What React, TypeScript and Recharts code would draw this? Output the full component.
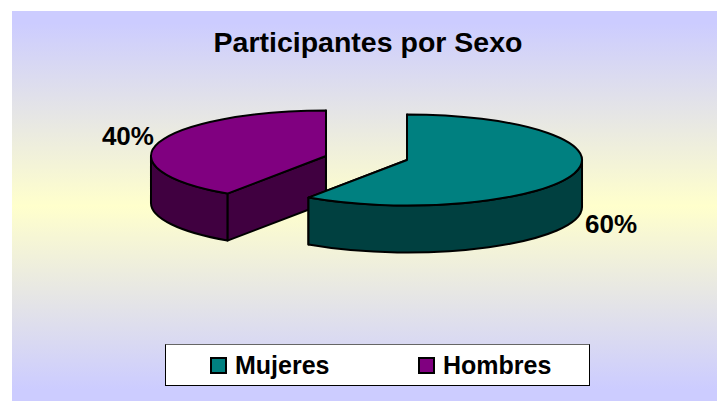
import { Cell, Legend, Pie, PieChart } from "recharts";

const categories = ["Hombres", "Mujeres"];
const values = [40.48, 59.52];
const legendOrder = ["Mujeres", "Hombres"];
const topColors = ["#800080", "#008080"];
const sideColors = ["#400040", "#004040"];

const chartTitle = "Participantes por Sexo";

const tableData = categories.map((name, i) => ({ name, value: values[i] }));
const total = values.reduce((a, b) => a + b, 0);
const firstAngle = 90 + (360 * values[0]) / total;

const WIDTH = 705;
const HEIGHT = 390;
const RX = 175;
const RY = 45.5;
const DEPTH = 47;
const EXPLODE = 42.4;
const EXPLODE_Y = 0.16;
const FONT = '"Liberation Sans", Arial, sans-serif';

const rad = (d: number) => (d * Math.PI) / 180;

const Slice3D = (props: any) => {
  const { cx, cy, startAngle, endAngle, index } = props;
  const a0 = 90 - startAngle;
  const a1 = 90 - endAngle;
  const mid = rad((a0 + a1) / 2);
  const ax = cx + EXPLODE * Math.sin(mid);
  const ay = cy - EXPLODE * EXPLODE_Y * Math.cos(mid);
  const px = (t: number) => ax + RX * Math.sin(rad(t));
  const py = (t: number) => ay - RY * Math.cos(rad(t));

  const top = `M${ax},${ay} L${px(a0)},${py(a0)} A${RX},${RY} 0 ${a1 - a0 > 180 ? 1 : 0} 1 ${px(a1)},${py(a1)} Z`;

  const radial = (t: number) =>
    `M${ax},${ay} L${px(t)},${py(t)} L${px(t)},${py(t) + DEPTH} L${ax},${ay + DEPTH} Z`;

  // only the front half of the rim shows a wall
  const walls: string[] = [];
  [[90, 270], [-270, -90]].forEach(([lo, hi]) => {
    const t0 = Math.max(a0, lo);
    const t1 = Math.min(a1, hi);
    if (t1 > t0) {
      walls.push(
        `M${px(t0)},${py(t0)} A${RX},${RY} 0 0 1 ${px(t1)},${py(t1)} L${px(t1)},${py(t1) + DEPTH} A${RX},${RY} 0 0 0 ${px(t0)},${py(t0) + DEPTH} Z`
      );
    }
  });

  const side = sideColors[index];
  return (
    <g stroke="#000000" strokeWidth={2} strokeLinejoin="round">
      <path d={radial(a0)} fill={side} />
      <path d={radial(a1)} fill={side} />
      {walls.map((d) => (
        <path key={d} d={d} fill={side} />
      ))}
      <path d={top} fill={topColors[index]} />
    </g>
  );
};

const PercentLabel = (props: any) => {
  const { cx, cy, midAngle, percent } = props;
  const t = rad(90 - midAngle);
  const ax = cx + EXPLODE * Math.sin(t);
  const ay = cy - EXPLODE * EXPLODE_Y * Math.cos(t);
  const front = Math.cos(t) < 0;
  return (
    <text
      x={ax + 210.4 * Math.sin(t) + 3}
      y={ay - RY * Math.cos(t) + (front ? DEPTH + 4 : -7)}
      textAnchor="middle"
      dominantBaseline="central"
      fontFamily={FONT}
      fontWeight="bold"
      fontSize={26}
      fill="#000000"
    >
      {`${Math.round(percent * 100)}%`}
    </text>
  );
};

const LegendBox = () => (
  <div
    style={{
      boxSizing: "border-box",
      width: 425,
      height: 42,
      background: "#ffffff",
      border: "1px solid #000000",
      borderTopColor: "#666666",
      position: "relative",
      fontFamily: FONT,
      fontWeight: "bold",
      fontSize: 25,
      color: "#000000",
    }}
  >
    {legendOrder.map((name, i) => (
      <div
        key={name}
        style={{
          position: "absolute",
          left: i === 0 ? 44 : 252,
          top: 0,
          height: 40,
          display: "flex",
          alignItems: "center",
        }}
      >
        <span
          style={{
            boxSizing: "border-box",
            display: "inline-block",
            width: 17,
            height: 17,
            border: "2px solid #000000",
            background: topColors[categories.indexOf(name)],
            marginRight: 8,
          }}
        />
        <span>{name}</span>
      </div>
    ))}
  </div>
);

export default function App() {
  return (
    <div
      style={{
        position: "absolute",
        left: 12,
        top: 11,
        width: WIDTH,
        height: HEIGHT,
        background: "linear-gradient(180deg, #ccccff 3%, #ffffcc 50%, #ccccff 97%)",
      }}
    >
      <PieChart width={WIDTH} height={HEIGHT} margin={{ top: 0, right: 0, bottom: 0, left: 0 }}>
        <text
          x={356}
          y={41}
          textAnchor="middle"
          fontFamily={FONT}
          fontWeight="bold"
          fontSize={28.5}
          fill="#000000"
        >
          {chartTitle}
        </text>
        <Pie
          data={tableData}
          dataKey="value"
          nameKey="name"
          cx={354.5}
          cy={147}
          outerRadius={RX}
          startAngle={firstAngle}
          endAngle={firstAngle - 360}
          shape={Slice3D}
          label={PercentLabel}
          labelLine={false}
          stroke="#000000"
          isAnimationActive={false}
        >
          {tableData.map((row, i) => (
            <Cell key={row.name} fill={topColors[i]} />
          ))}
        </Pie>
        <Legend
          content={LegendBox}
          wrapperStyle={{ left: 153, top: 333, width: 425, height: 42, bottom: "auto" }}
        />
      </PieChart>
    </div>
  );
}
